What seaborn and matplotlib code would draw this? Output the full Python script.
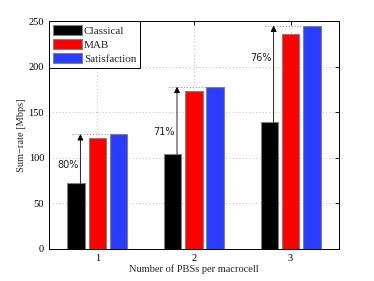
import numpy as np
import pandas as pd
import matplotlib
matplotlib.use("Agg")
import matplotlib.pyplot as plt
import seaborn as sns

# values
pbs_counts = ["1", "2", "3"]
schemes = ["Classical", "MAB", "Satisfaction"]
classical = [72, 104, 139]
mab = [122, 173, 236]
satisfaction = [126, 178, 245]
gain_labels = ["80%", "71%", "76%"]

df = pd.DataFrame({
    "pbs": pbs_counts * 3,
    "scheme": np.repeat(schemes, 3),
    "rate": classical + mab + satisfaction,
})

sns.set_style("white")
plt.rcParams["font.family"] = ["Liberation Serif", "DejaVu Serif"]

fig = plt.figure(figsize=(3.74, 2.81), dpi=100)
ax = fig.add_axes([0.131, 0.114, 0.775, 0.811])

palette = {"Classical": "#000000", "MAB": "#ff0000", "Satisfaction": "#2a3cff"}
sns.barplot(data=df, x="pbs", y="rate", hue="scheme", palette=palette,
            order=pbs_counts, hue_order=schemes, width=0.66, gap=0.18,
            edgecolor="#808080", linewidth=0.8, saturation=1, ax=ax,
            errorbar=None)

ax.set_xlim(-0.5, 2.5)
ax.set_ylim(0, 250)
ax.set_yticks(range(0, 251, 50))
ax.grid(True, linestyle=(0, (1, 3)), color="#b0b0b0", linewidth=0.6)
ax.set_axisbelow(True)
for s in ax.spines.values():
    s.set_color("black")
    s.set_linewidth(0.7)
ax.tick_params(direction="in", top=True, right=True, length=3, width=0.6,
               labelsize=7.5, colors="black")
ax.set_xlabel("Number of PBSs per macrocell", fontsize=7.5, labelpad=1)
ax.set_ylabel("Sum\u2212rate [Mbps]", fontsize=7.5, labelpad=2)

# arrows from classical up to satisfaction level
black_bars = ax.containers[0]
blue_bars = ax.containers[2]
text_y = [92, 128, 210]
for i, (lo, hi) in enumerate(zip(classical, satisfaction)):
    bb = black_bars[i]
    xc = bb.get_x() + bb.get_width() / 2
    xa = xc + 0.045
    xr = blue_bars[i].get_x() + blue_bars[i].get_width()
    ax.plot([xc - 0.04, xr], [hi, hi], linestyle=(0, (1, 2)),
            color="#888888", linewidth=0.7, zorder=1)
    ax.annotate("", xy=(xa, hi), xytext=(xa, lo),
                arrowprops=dict(arrowstyle="-|>", color="black", lw=0.6,
                                mutation_scale=9, shrinkA=0, shrinkB=0))
    ax.text(xa - 0.02, text_y[i], gain_labels[i], ha="right", va="center",
            fontsize=7, family=["DejaVu Sans"], color="#222222")

leg = ax.legend(loc="upper left", fontsize=8, frameon=True, fancybox=False,
                edgecolor="black", framealpha=1, borderaxespad=0,
                handlelength=2.6, handleheight=1.0, handletextpad=0.2,
                borderpad=0.35, labelspacing=0.3)
leg.get_frame().set_linewidth(0.7)

fig.savefig("out.png", dpi=100)
